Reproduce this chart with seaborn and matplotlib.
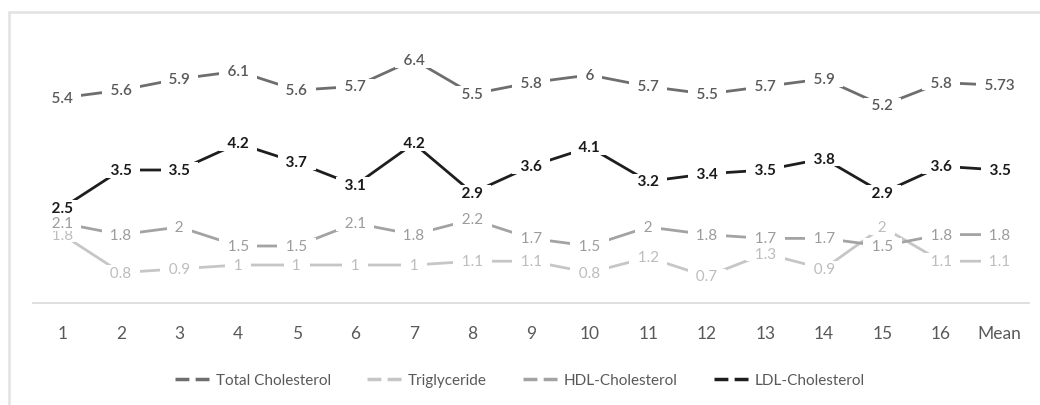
import numpy as np
import pandas as pd
import matplotlib.pyplot as plt
import seaborn as sns

categories = ["1", "2", "3", "4", "5", "6", "7", "8", "9", "10", "11", "12",
              "13", "14", "15", "16", "Mean"]
total_chol = [5.4, 5.6, 5.9, 6.1, 5.6, 5.7, 6.4, 5.5, 5.8, 6, 5.7, 5.5, 5.7, 5.9, 5.2, 5.8, 5.73]
triglyceride = [1.8, 0.8, 0.9, 1, 1, 1, 1, 1.1, 1.1, 0.8, 1.2, 0.7, 1.3, 0.9, 2, 1.1, 1.1]
hdl_chol = [2.1, 1.8, 2, 1.5, 1.5, 2.1, 1.8, 2.2, 1.7, 1.5, 2, 1.8, 1.7, 1.7, 1.5, 1.8, 1.8]
ldl_chol = [2.5, 3.5, 3.5, 4.2, 3.7, 3.1, 4.2, 2.9, 3.6, 4.1, 3.2, 3.4, 3.5, 3.8, 2.9, 3.6, 3.5]

series_names = ["Total Cholesterol", "Triglyceride", "HDL-Cholesterol", "LDL-Cholesterol"]
series_values = [total_chol, triglyceride, hdl_chol, ldl_chol]
line_colors = ["#6e6e6e", "#c6c6c6", "#a3a3a3", "#1e1e1e"]
label_colors = ["#595959", "#bdbdbd", "#9c9c9c", "#1a1a1a"]
label_weights = ["semibold", "normal", "normal", "bold"]
label_z = [6, 7, 8, 5]

rows = []
for name, vals in zip(series_names, series_values):
    for i, v in enumerate(vals):
        rows.append({"idx": i, "value": v, "series": name})
df = pd.DataFrame(rows)

sns.set_style("white")
plt.rcParams['font.family'] = ['Lato', 'DejaVu Sans']

fig = plt.figure(figsize=(10.4, 4.06), dpi=100)
ax = fig.add_axes([33 / 1040, 102 / 406, 996 / 1040, 266 / 406])

sns.lineplot(data=df, x="idx", y="value", hue="series", hue_order=series_names,
             palette=line_colors, linewidth=2.0, ax=ax, legend=True)

# data labels centred on the points, white box cuts the line like excel
# (spaces widen the box sideways only)
for vals, col, w, z in zip(series_values, label_colors, label_weights, label_z):
    for i, v in enumerate(vals):
        ax.text(i, v, f"  {v:g}  ", ha="center", va="center", fontsize=11, color=col,
                fontweight=w, zorder=z,
                bbox=dict(boxstyle="square,pad=0.05", fc="white", ec="none"))

ax.set_xlim(-0.5, len(categories) - 0.5)
ax.set_ylim(0, 7)
ax.set_xticks(range(len(categories)))
ax.set_xticklabels(categories, fontsize=12.5, color="#595959")
ax.set_yticks([])
ax.tick_params(axis="x", length=0, pad=16)
ax.set_xlabel("")
ax.set_ylabel("")
for s in ["left", "top", "right"]:
    ax.spines[s].set_visible(False)
ax.spines["bottom"].set_color("#d9d9d9")
ax.spines["bottom"].set_linewidth(1.2)

handles, labels = ax.get_legend_handles_labels()
ax.get_legend().remove()
for h in handles:
    h.set_linestyle((0, (4, 1.8)))
    h.set_linewidth(2.5)
fig.legend(handles, labels, loc="center", bbox_to_anchor=(0.5, 1 - 381 / 406), ncol=4,
           frameon=False, fontsize=11, labelcolor="#595959", handlelength=2.25,
           columnspacing=2.4, handletextpad=0.4)

# chart area frame
frame = plt.Rectangle((8.5 / 1040, -0.05), 1.1, 1 - 12.5 / 406 + 0.05, transform=fig.transFigure,
                      fill=False, ec="#e2e2e2", lw=1.8, zorder=0)
fig.patches.append(frame)

fig.savefig("out.png", dpi=100)
